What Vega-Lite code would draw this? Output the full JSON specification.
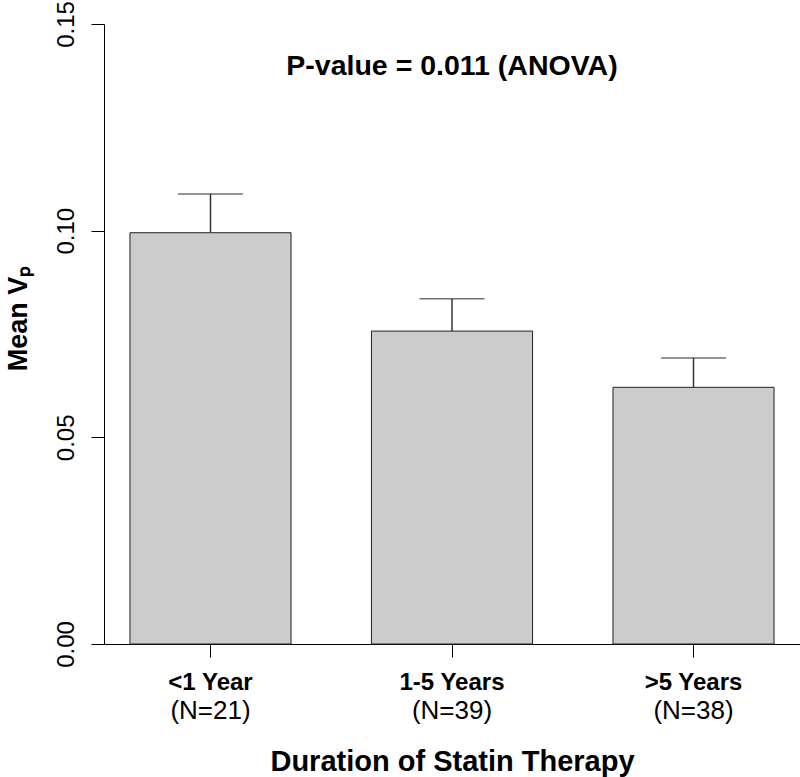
{
  "$schema": "https://vega.github.io/schema/vega-lite/v6.json",
  "width": 696,
  "height": 620,
  "autosize": {"type": "none"},
  "padding": {"left": 104, "top": 24, "right": 0, "bottom": 133},
  "background": "white",
  "config": {"view": {"stroke": null}, "font": "Liberation Sans"},
  "data": {
    "values": [
      {"group": "<1 Year", "n": "(N=21)", "mean": 0.0995, "upper": 0.1089},
      {"group": "1-5 Years", "n": "(N=39)", "mean": 0.0757, "upper": 0.0835},
      {"group": ">5 Years", "n": "(N=38)", "mean": 0.0621, "upper": 0.0692}
    ]
  },
  "layer": [
    {
      "mark": {"type": "bar", "fill": "#cccccc", "stroke": "#222222", "strokeWidth": 1},
      "encoding": {
        "x": {
          "field": "group", "type": "nominal", "sort": null,
          "scale": {"paddingInner": 0.333, "paddingOuter": 0.1075},
          "axis": {
            "labelAngle": 0, "labelFontSize": 24, "labelFontWeight": "bold", "labelColor": "black",
            "labelBaseline": "alphabetic", "labelPadding": 32,
            "tickSize": 13, "tickColor": "black", "domainColor": "black",
            "title": "Duration of Statin Therapy", "titleFontSize": 29, "titleFontWeight": "bold",
            "titleColor": "black", "titleY": 126, "titleBaseline": "alphabetic"
          }
        },
        "y": {
          "field": "mean", "type": "quantitative",
          "scale": {"domain": [0, 0.15], "nice": false},
          "axis": {
            "values": [0, 0.05, 0.1, 0.15], "format": ".2f", "grid": false,
            "labelAngle": -90, "labelAlign": "center", "labelBaseline": "alphabetic", "labelPadding": 18,
            "labelFontSize": 24, "labelColor": "black",
            "tickSize": 13, "tickColor": "black", "domainColor": "black",
            "title": "Mean Vₚ", "titleFontSize": 27, "titleFontWeight": "bold", "titleColor": "black",
            "titleAngle": -90, "titleX": -78, "titleY": 294, "titleAlign": "center", "titleBaseline": "alphabetic"
          }
        }
      }
    },
    {
      "mark": {"type": "rule", "color": "#333333", "strokeWidth": 1.5},
      "encoding": {
        "x": {"field": "group", "type": "nominal", "sort": null},
        "y": {"field": "mean", "type": "quantitative"},
        "y2": {"field": "upper"}
      }
    },
    {
      "mark": {"type": "tick", "color": "#333333", "thickness": 1.5, "size": 65, "orient": "horizontal"},
      "encoding": {
        "x": {"field": "group", "type": "nominal", "sort": null},
        "y": {"field": "upper", "type": "quantitative"}
      }
    },
    {
      "mark": {"type": "text", "dy": 75, "baseline": "alphabetic", "fontSize": 26, "color": "black"},
      "encoding": {
        "x": {"field": "group", "type": "nominal", "sort": null},
        "y": {"datum": 0},
        "text": {"field": "n"}
      }
    },
    {
      "data": {"values": [{"label": "P-value = 0.011 (ANOVA)"}]},
      "mark": {"type": "text", "fontSize": 28.5, "fontWeight": "bold", "baseline": "alphabetic", "color": "black"},
      "encoding": {
        "x": {"datum": "1-5 Years"},
        "y": {"datum": 0.1377},
        "text": {"field": "label"}
      }
    }
  ]
}
